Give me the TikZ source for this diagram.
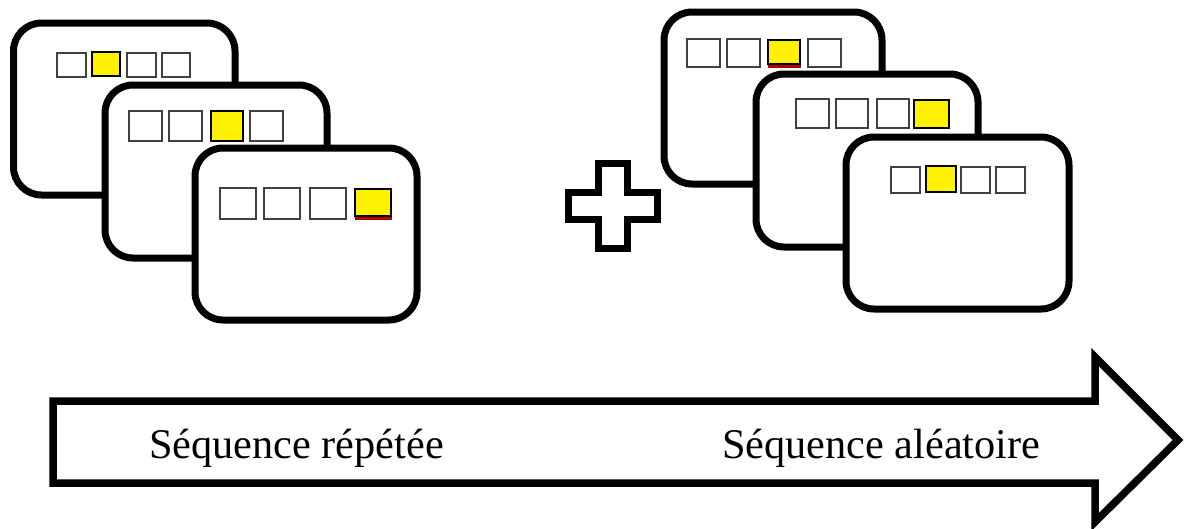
\documentclass[tikz,border=0pt]{standalone}
\usepackage{fontspec}
\setmainfont{Liberation Serif}
\begin{document}
\begin{tikzpicture}[x=1pt,y=-1pt,
  card/.style={draw=black,fill=white,line width=7pt,rounded corners=28pt},
  cell/.style={draw=black!75,fill=white,line width=1.4pt},
  lit/.style={draw=black,fill=yellow,line width=2pt},
  litshadow/.style={draw=red!70!black,fill=red!70!black,line width=1pt},
  bigarrow/.style={draw=black,fill=white,line width=7.5pt,miter limit=10},
  plus/.style={draw=black,fill=white,line width=7pt,miter limit=10},
  label/.style={anchor=base west,inner sep=0pt,font=\fontsize{42.3}{48}\selectfont}]
\useasboundingbox (0,0) rectangle (1185,528);

% ---- repeated sequence: three stacked screens ----
\draw[card] (13.5,23) rectangle (235,195);
\draw[cell] (57,53) rectangle (86,77);
\draw[lit]  (92,52) rectangle (120,76);
\draw[cell] (127,53) rectangle (156,77);
\draw[cell] (162,53) rectangle (190,77);

\draw[card] (105,85) rectangle (327,258);
\draw[cell] (129,111) rectangle (162,141);
\draw[cell] (169,111) rectangle (202,141);
\draw[lit]  (211,111) rectangle (243,141);
\draw[cell] (250,111) rectangle (283,141);

\draw[card] (195,148) rectangle (417,320);
\draw[cell] (220,188) rectangle (256,219);
\draw[cell] (264,188) rectangle (300,219);
\draw[cell] (310,188) rectangle (346,219);
\draw[litshadow] (355,190) rectangle (391,219);
\draw[lit]  (355,189) rectangle (391,216);

% ---- plus sign ----
\draw[plus] (598,163) -- (627,163) -- (627,192) -- (657,192) -- (657,219)
  -- (627,219) -- (627,248) -- (598,248) -- (598,219) -- (568,219)
  -- (568,192) -- (598,192) -- cycle;

% ---- random sequence: three stacked screens ----
\draw[card] (664,12) rectangle (882,184);
\draw[cell] (687,39) rectangle (720,67);
\draw[cell] (727,39) rectangle (760,67);
\draw[litshadow] (768,42) rectangle (800,67);
\draw[lit]  (768,40) rectangle (800,64);
\draw[cell] (808,39) rectangle (841,67);

\draw[card] (756,74) rectangle (978,247);
\draw[cell] (796,99) rectangle (829,128);
\draw[cell] (836,99) rectangle (868,128);
\draw[cell] (877,99) rectangle (909,128);
\draw[lit]  (914,100) rectangle (949,128);

\draw[card] (846,137) rectangle (1069,309);
\draw[cell] (891,167) rectangle (920,193);
\draw[lit]  (926,166) rectangle (956,192);
\draw[cell] (961,167) rectangle (990,193);
\draw[cell] (996,167) rectangle (1025,193);

% ---- timeline arrow ----
\draw[bigarrow] (53,401) -- (1095,401) -- (1095,357) -- (1178,440)
  -- (1095,522) -- (1095,483) -- (53,483) -- cycle;
\node[label] (rep) at (149,458) {Séquence répétée};
\node[label] (alea) at (722,458) {Séquence aléatoire};
\end{tikzpicture}
\end{document}
